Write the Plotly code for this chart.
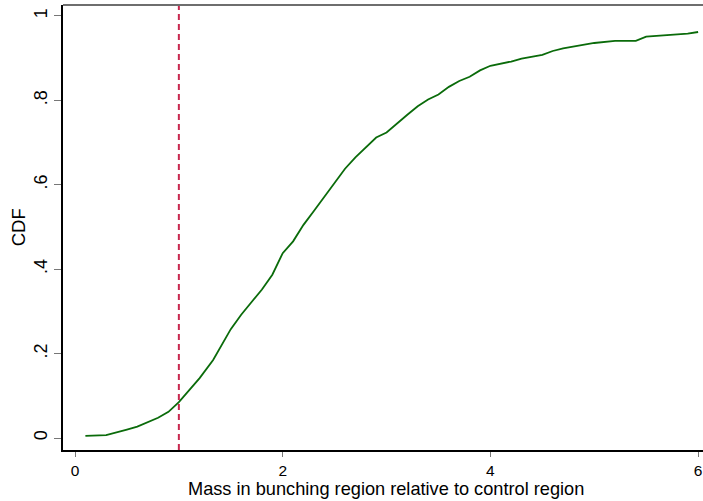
import plotly.graph_objects as go

# Empirical CDF of bunching-region mass relative to the control region
mass_ratio = [0.1, 0.3, 0.5, 0.6, 0.8, 0.9, 1.0, 1.1, 1.2, 1.33, 1.4, 1.5, 1.6, 1.7,
              1.8, 1.9, 2.0, 2.1, 2.2, 2.3, 2.4, 2.5, 2.6, 2.7, 2.8, 2.9, 3.0, 3.1,
              3.2, 3.3, 3.4, 3.5, 3.6, 3.7, 3.8, 3.9, 4.0, 4.2, 4.3, 4.5, 4.6, 4.7,
              4.8, 5.0, 5.2, 5.4, 5.5, 5.8, 5.9, 6.0]
cdf = [0.005, 0.007, 0.020, 0.027, 0.048, 0.062, 0.085, 0.113, 0.142, 0.185, 0.215,
       0.258, 0.292, 0.322, 0.352, 0.387, 0.438, 0.466, 0.505, 0.538, 0.572, 0.604,
       0.638, 0.665, 0.688, 0.712, 0.724, 0.746, 0.766, 0.786, 0.802, 0.814, 0.832,
       0.846, 0.856, 0.871, 0.882, 0.892, 0.899, 0.908, 0.917, 0.923, 0.927, 0.936,
       0.941, 0.941, 0.951, 0.957, 0.958, 0.962]

reference_ratio = 1.0

x_ticks = [0, 2, 4, 6]
x_tick_text = ["0", "2", "4", "6"]
y_ticks = [0, 0.2, 0.4, 0.6, 0.8, 1.0]
y_tick_text = ["0", ".2", ".4", ".6", ".8", "1"]

x_title = "Mass in bunching region relative to control region"
y_title = "CDF"

FONT = "Liberation Sans, Arial, sans-serif"

fig = go.Figure()
fig.add_trace(go.Scatter(
    x=mass_ratio, y=cdf, mode="lines",
    line=dict(color="#0a6b0a", width=1.8),
    showlegend=False, hoverinfo="skip",
))

# Vertical dashed reference line at ratio = 1
fig.add_shape(type="line", xref="x", yref="paper",
              x0=reference_ratio, x1=reference_ratio, y0=0, y1=1,
              line=dict(color="#c8284f", width=2, dash="6px,4px"))

# Top outline of the plot region
fig.add_shape(type="line", xref="paper", yref="paper",
              x0=0, x1=1, y0=1, y1=1,
              line=dict(color="#6e6e6e", width=2))

# Axis titles
fig.add_annotation(text=x_title, xref="paper", yref="paper",
                   x=0.505, y=-0.087, xanchor="center", yanchor="middle",
                   showarrow=False, font=dict(size=18.2, family=FONT, color="black"))
fig.add_annotation(text=y_title, xref="paper", yref="paper",
                   x=-0.069, y=0.5, xanchor="center", yanchor="middle",
                   textangle=-90, showarrow=False,
                   font=dict(size=18.5, family=FONT, color="black"))

fig.update_layout(
    width=703, height=501,
    margin=dict(l=63, r=0, t=5, b=51),
    paper_bgcolor="white", plot_bgcolor="white",
    font=dict(family=FONT, color="black", size=16),
    xaxis=dict(
        range=[-0.1156, 6.047], tickvals=x_ticks, ticktext=x_tick_text,
        showgrid=False, zeroline=False,
        showline=True, linecolor="black", linewidth=2,
        ticks="outside", ticklen=5, tickwidth=1.2, tickcolor="#777777",
        ticklabeloverflow="allow",
        tickfont=dict(size=15.5, family=FONT),
    ),
    yaxis=dict(
        range=[-0.0284, 1.026], tickvals=y_ticks, ticktext=y_tick_text,
        showgrid=False, zeroline=False,
        showline=True, linecolor="black", linewidth=2,
        ticks="outside", ticklen=7, tickwidth=1.2, tickcolor="#777777",
        tickangle=-90,
        tickfont=dict(size=18, family=FONT),
    ),
)

fig.write_html("out.html")
